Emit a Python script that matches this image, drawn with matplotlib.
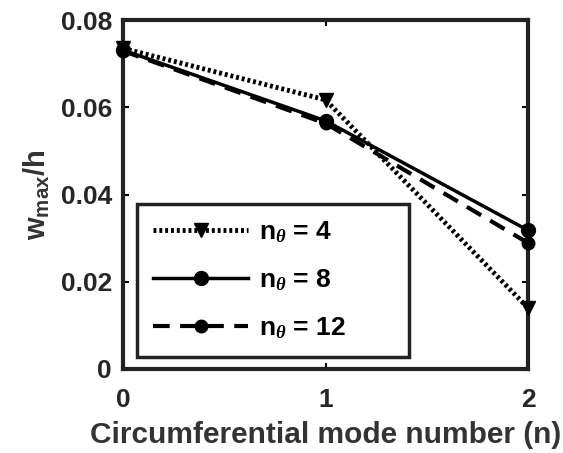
import numpy as np
import matplotlib.pyplot as plt

plt.rcParams['font.family'] = ['Liberation Sans', 'DejaVu Sans']
plt.rcParams['font.weight'] = 'bold'
plt.rcParams['mathtext.fontset'] = 'custom'
plt.rcParams['mathtext.it'] = 'Liberation Serif:italic'

modes = [0, 1, 2]
w_nt4 = [0.0735, 0.0617, 0.0140]
w_nt8 = [0.0731, 0.0569, 0.0318]
w_nt12 = [0.0729, 0.0563, 0.0289]
labels = [r'n$_\theta$ = 4', r'n$_\theta$ = 8', r'n$_\theta$ = 12']

fig = plt.figure(figsize=(5.63, 4.53), dpi=100)
ax = fig.add_axes([123 / 563, 1 - 369 / 453, 405 / 563, 349 / 453])

ax.plot(modes, w_nt4, color='k', lw=3.5, marker='v', ms=10, label=labels[0],
        dashes=(0.6, 0.6), clip_on=False, zorder=3)
ax.plot(modes, w_nt8, '-', color='k', lw=2.5, marker='o', ms=10, label=labels[1],
        clip_on=False, zorder=3)
ax.plot(modes, w_nt12, color='k', lw=3, marker='o', ms=9, label=labels[2],
        dashes=(4, 2.5), clip_on=False, zorder=3)

ax.set_xlim(0, 2)
ax.set_ylim(0, 0.08)
ax.set_xticks([0, 1, 2])
ax.set_xticklabels(['0', '1', '2'])
ax.set_yticks([0, 0.02, 0.04, 0.06, 0.08])
ax.set_yticklabels(['0', '0.02', '0.04', '0.06', '0.08'])
ax.tick_params(direction='in', top=True, right=True, length=4, width=1.5,
               labelsize=19, labelcolor='#262626', pad=8)
ax.tick_params(axis='x', pad=14)
for s in ax.spines.values():
    s.set_linewidth(3)
    s.set_color('#222222')

ax.set_xlabel('Circumferential mode number (n)', fontsize=21.5, color='#333333',
              fontweight='bold', labelpad=6)
ax.set_ylabel(r'w$_{\mathregular{max}}$/h', fontsize=21, color='#333333',
              fontweight='bold', labelpad=6)

leg = ax.legend(loc='lower left', bbox_to_anchor=(0.035, 0.034, 0.67, 0.44),
                mode='expand', fontsize=19, framealpha=1,
                frameon=True, fancybox=False, handlelength=3.6, borderpad=0.6,
                labelspacing=0.85, handletextpad=0.4, borderaxespad=0)
leg.get_frame().set_edgecolor('#222222')
leg.get_frame().set_linewidth(2.5)

fig.savefig('out.png', dpi=100)
